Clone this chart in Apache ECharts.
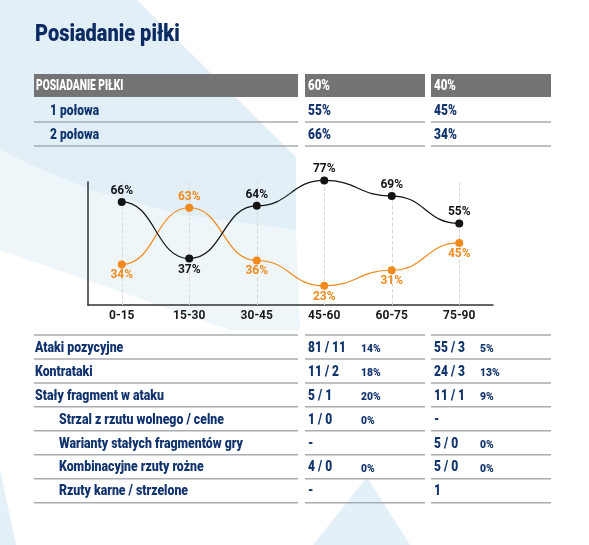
<!DOCTYPE html>
<html>
<head>
<meta charset="utf-8">
<script src="https://cdn.jsdelivr.net/npm/echarts@6/dist/echarts.min.js"></script>
<style>
html,body{margin:0;padding:0;background:#fff;}
#chart{width:589px;height:545px;}
</style>
</head>
<body>
<div id="chart"></div>
<script>
// ---------- data ----------
const titleText = 'Posiadanie piłki';
const summaryLabel = 'POSIADANIE PIŁKI';
const summaryTotals = ['60%', '40%'];
const halfLabels = ['1 połowa', '2 połowa'];
const halfHome = ['55%', '66%'];
const halfAway = ['45%', '34%'];

const periods = ['0-15', '15-30', '30-45', '45-60', '60-75', '75-90'];
const homeShare = [66, 37, 64, 77, 69, 55];
const awayShare = [34, 63, 36, 23, 31, 45];

const statLabels = ['Ataki pozycyjne', 'Kontrataki', 'Stały fragment w ataku',
  'Strzal z rzutu wolnego / celne', 'Warianty stałych fragmentów gry',
  'Kombinacyjne rzuty rożne', 'Rzuty karne / strzelone'];
const statLevel = [0, 0, 0, 1, 1, 1, 1];
const homeStat = ['81 / 11', '11 / 2', '5 / 1', '1 / 0', '-', '4 / 0', '-'];
const homePct = ['14%', '18%', '20%', '0%', '', '0%', ''];
const awayStat = ['55 / 3', '24 / 3', '11 / 1', '-', '5 / 0', '5 / 0', '1'];
const awayPct = ['5%', '13%', '9%', '', '0%', '0%', ''];

// ---------- styling / layout ----------
const FF = 'Roboto,"Liberation Sans",Arial,sans-serif';
const CF = 'Roboto,"Liberation Sans",sans-serif';
const NAVY = '#12346e';
const GRAYLINE = '#a7acb1';
const ORANGE = '#f18a1d';
const BLACK = '#141414';
const cols = [[34, 298], [305, 425], [431, 551]];

const g = [];
// background decoration
const bgShapes = [
  {pts: [[0,0],[137,0],[296,157],[296,230],[180,215],[90,190],[30,165],[0,150]], c: '#e2eff7'},
  {pts: [[0,150],[30,165],[90,190],[180,215],[296,230],[300,330],[230,330],[0,250]], c: '#eef6fa'},
  {pts: [[313,545],[367,477],[410,545]], c: '#e3f0f8'},
  {pts: [[0,470],[16,545],[0,545]], c: '#e3f0f8'}
];
bgShapes.forEach(s => g.push({type: 'polygon', z: -10, silent: true, shape: {points: s.pts}, style: {fill: s.c}}));

function txt(x, y, t, size, color, sx) {
  g.push({type: 'text', z: 10, silent: true, x: x, y: y, scaleX: sx, scaleY: 1, style: {
    x: 0, y: 0, text: t, fill: color, align: 'left', verticalAlign: 'middle',
    font: '900 ' + size + 'px ' + FF
  }});
}
function hline(x1, x2, y) {
  g.push({type: 'line', z: 5, silent: true, shape: {x1: x1, y1: y, x2: x2, y2: y},
    style: {stroke: GRAYLINE, lineWidth: 1.5}});
}

// title
txt(35, 35, titleText, 23, '#0d2b63', 0.87);

// header row
cols.forEach(c => g.push({type: 'rect', z: 4, silent: true, shape: {x: c[0], y: 74, width: c[1] - c[0], height: 23}, style: {fill: '#747474'}}));
txt(36, 86, summaryLabel, 14, '#ffffff', 0.73);
txt(308, 86, summaryTotals[0], 14, '#ffffff', 0.82);
txt(434, 86, summaryTotals[1], 14, '#ffffff', 0.82);

halfLabels.forEach((lab, i) => {
  const ly = 122 + i * 24;
  txt(50, ly - 11, lab, 15, NAVY, 0.8);
  txt(308, ly - 11, halfHome[i], 15, NAVY, 0.8);
  txt(434, ly - 11, halfAway[i], 15, NAVY, 0.8);
  cols.forEach(c => hline(c[0], c[1], ly));
});

// lower table
const tTop = 335, rowH = 23.95;
cols.forEach(c => hline(c[0], c[1], tTop));
statLabels.forEach((lab, i) => {
  const ly = tTop + (i + 1) * rowH;
  const cy = ly - 11;
  txt(statLevel[i] ? 59 : 35, cy, lab, 15, NAVY, 0.82);
  txt(308, cy, homeStat[i], 15, NAVY, 0.8);
  if (homePct[i]) txt(361, cy + 1, homePct[i], 11.5, NAVY, 0.9);
  txt(434, cy, awayStat[i], 15, NAVY, 0.8);
  if (awayPct[i]) txt(480, cy + 1, awayPct[i], 11.5, NAVY, 0.9);
  cols.forEach(c => hline(c[0], c[1], ly));
});

function pointData(vals, other) {
  return vals.map((v, i) => ({
    value: v,
    label: {position: v >= other[i] ? 'top' : 'bottom'}
  }));
}
const labelBase = (color) => ({
  show: true, formatter: '{c}%', distance: 1, color: color,
  fontFamily: CF, fontWeight: 'bold', fontSize: 12
});
// S-shaped curve between consecutive points (horizontal tangents at each point)
function curveSeries(vals, color, z) {
  return {
    type: 'custom', z: z, silent: true,
    data: vals.map((v, i) => [i, v]),
    encode: {x: 0, y: 1},
    renderItem: function (params, api) {
      const i = params.dataIndex;
      if (i >= vals.length - 1) return null;
      const p0 = api.coord([i, vals[i]]);
      const p1 = api.coord([i + 1, vals[i + 1]]);
      const mx = (p0[0] + p1[0]) / 2;
      return {
        type: 'bezierCurve',
        shape: {x1: p0[0], y1: p0[1], cpx1: mx, cpy1: p0[1], cpx2: mx, cpy2: p1[1], x2: p1[0], y2: p1[1]},
        style: {stroke: color, fill: null, lineWidth: 1.2}
      };
    }
  };
}

const chart = echarts.init(document.getElementById('chart'), null, {renderer: 'canvas'});
chart.setOption({
  animation: false,
  backgroundColor: '#ffffff',
  graphic: g,
  grid: {left: 88, right: 96, top: 182, bottom: 240, containLabel: false},
  xAxis: {
    type: 'category', data: periods, boundaryGap: true,
    axisLine: {show: true, lineStyle: {color: '#333333', width: 1.5}},
    axisTick: {show: false},
    axisLabel: {margin: 5, color: '#1a1a1a', fontFamily: CF, fontWeight: 'bold', fontSize: 12},
    splitLine: {show: false}
  },
  yAxis: {
    type: 'value', min: 13.2, max: 76.2,
    axisLine: {show: true, lineStyle: {color: '#333333', width: 1.5}},
    axisTick: {show: false}, axisLabel: {show: false}, splitLine: {show: false}
  },
  series: [
    {
      type: 'line', name: 'guides', data: awayShare, z: 1, silent: true,
      symbol: 'none', lineStyle: {opacity: 0}, label: {show: false},
      markLine: {
        z: 1, silent: true, symbol: ['none', 'none'], label: {show: false},
        lineStyle: {type: 'dashed', color: '#dadada', width: 1},
        data: periods.map(p => ({xAxis: p}))
      }
    },
    curveSeries(awayShare, ORANGE, 2),
    curveSeries(homeShare, BLACK, 3),
    {
      type: 'line', name: 'away', data: pointData(awayShare, homeShare),
      clip: false, symbol: 'circle', symbolSize: 8,
      itemStyle: {color: ORANGE}, lineStyle: {opacity: 0},
      label: labelBase(ORANGE), z: 4
    },
    {
      type: 'line', name: 'home', data: pointData(homeShare, awayShare),
      clip: false, symbol: 'circle', symbolSize: 8,
      itemStyle: {color: BLACK}, lineStyle: {opacity: 0},
      label: labelBase(BLACK), z: 5
    }
  ]
});
</script>
</body>
</html>
